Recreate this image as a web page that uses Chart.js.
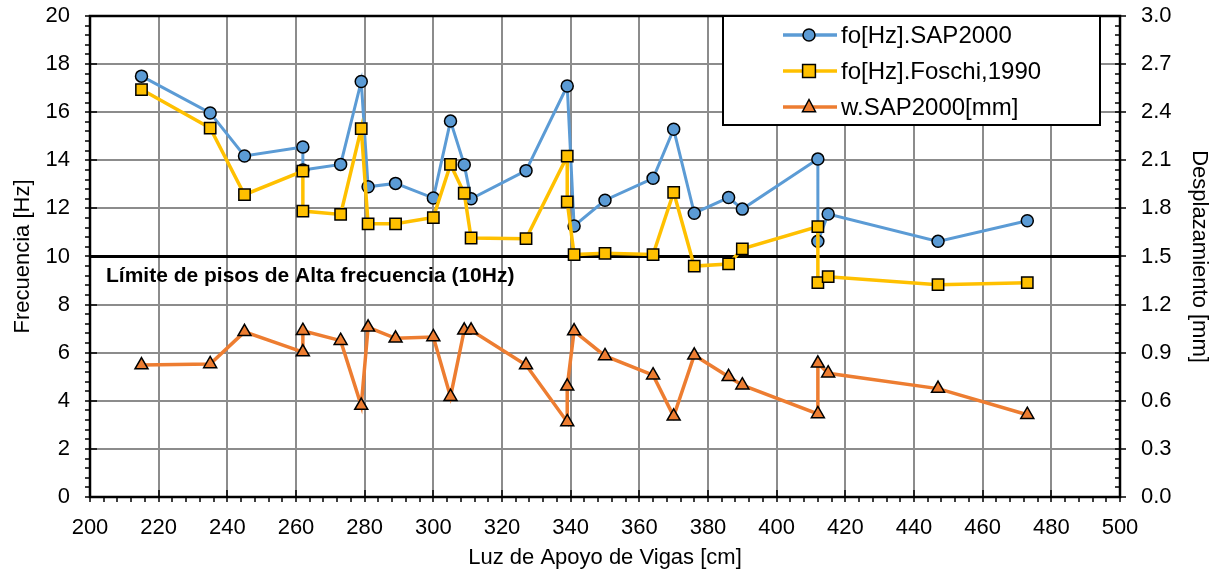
<!DOCTYPE html>
<html>
<head>
<meta charset="utf-8">
<script src="https://cdn.jsdelivr.net/npm/chart.js@4"></script>
<style>
  html, body { margin: 0; padding: 0; background: #fff; }
  #wrap { width: 1219px; height: 577px; }
</style>
</head>
<body>
<div id="wrap"><canvas id="chart" width="1219" height="577"></canvas></div>
<script>
// luz de apoyo [cm]
var xSap = [215,235,245,262,262,273,279,281,289,300,305,309,311,327,339,341,350,364,370,376,386,390,412,412,415,447,473];
var foSap = [17.5,15.97,14.18,14.55,13.6,13.83,17.28,12.9,13.04,12.43,15.63,13.82,12.4,13.57,17.09,11.27,12.34,13.25,15.29,11.8,12.45,11.97,14.05,10.63,11.77,10.63,11.49];
var xFoschi = [215,235,245,262,262,273,279,281,289,300,305,309,311,327,339,339,341,350,364,370,376,386,390,412,412,415,447,473];
var foFoschi = [16.94,15.34,12.57,13.55,11.89,11.75,15.32,11.36,11.36,11.62,13.83,12.63,10.77,10.74,14.17,12.27,10.08,10.13,10.08,12.67,9.6,9.69,10.32,11.24,8.91,9.16,8.83,8.91];
var xW = [215,235,245,262,262,273,279,281,289,300,305,309,311,327,339,339,341,350,364,370,376,386,390,412,412,415,447,473];
var wSap = [0.823,0.83,1.03,0.904,1.037,0.975,0.57,1.058,0.99,0.998,0.626,1.04,1.04,0.823,0.468,0.69,1.035,0.88,0.76,0.503,0.884,0.75,0.697,0.518,0.834,0.772,0.676,0.513];
var limiteX = [200, 500];
var limiteY = [10, 10];
var limiteLabel = 'Límite de pisos de Alta frecuencia (10Hz)';

function pts(xs, ys) { return xs.map(function (x, i) { return {x: x, y: ys[i]}; }); }

var FONT = "'Liberation Sans', Arial, sans-serif";
Chart.defaults.font.family = FONT;
Chart.defaults.color = '#000';

// sin relleno extra por las etiquetas de los extremos
function noEdgePad(s) { s.paddingTop = 0; s.paddingBottom = 0; s.paddingLeft = 0; s.paddingRight = 0; }

// ticks menores y marcas principales dibujados a mano
var minorTicks = {
  id: 'minorTicks',
  afterDraw: function (chart) {
    var ctx = chart.ctx, a = chart.chartArea;
    var sx = chart.scales.x, sy = chart.scales.y, sy1 = chart.scales.y1;
    ctx.save();
    ctx.strokeStyle = '#000';
    ctx.lineWidth = 1.5;
    ctx.beginPath();
    for (var v = 200; v <= 500.001; v += 4) {
      var px = Math.round(sx.getPixelForValue(v));
      var major = Math.abs(v / 20 - Math.round(v / 20)) < 1e-6;
      ctx.moveTo(px, major ? a.bottom - 7 : a.bottom);
      ctx.lineTo(px, a.bottom + 5);
    }
    for (var u = 0; u <= 20.001; u += 0.4) {
      var py = Math.round(sy.getPixelForValue(u));
      var maj = Math.abs(u / 2 - Math.round(u / 2)) < 1e-6;
      ctx.moveTo(a.left - 5, py);
      ctx.lineTo(maj ? a.left + 7 : a.left, py);
    }
    for (var w = 0; w <= 3.0001; w += 0.06) {
      var py1 = Math.round(sy1.getPixelForValue(w));
      var maj1 = Math.abs(w / 0.3 - Math.round(w / 0.3)) < 1e-6;
      ctx.moveTo(a.right - 5, py1);
      ctx.lineTo(maj1 ? a.right + 6 : a.right, py1);
    }
    ctx.stroke();
    // marco del área
    ctx.lineWidth = 2.5;
    ctx.strokeRect(a.left, a.top, a.right - a.left, a.bottom - a.top);
    // texto del límite
    ctx.font = 'bold 21px ' + FONT;
    ctx.fillStyle = '#000';
    ctx.textAlign = 'left';
    ctx.textBaseline = 'middle';
    ctx.fillText(limiteLabel, a.left + 16, sy.getPixelForValue(9.19));
    ctx.restore();
  }
};

// leyenda con marco dentro del área
var boxLegend = {
  id: 'boxLegend',
  afterDraw: function (chart) {
    var ctx = chart.ctx;
    var x0 = 723, y0 = 16, x1 = 1100, y1 = 125;
    ctx.save();
    ctx.fillStyle = '#fff';
    ctx.fillRect(x0, y0, x1 - x0, y1 - y0);
    ctx.strokeStyle = '#000';
    ctx.lineWidth = 2;
    ctx.strokeRect(x0, y0, x1 - x0, y1 - y0);
    var rows = [35, 71, 107];
    chart.data.datasets.slice(0, 3).forEach(function (ds, i) {
      var y = rows[i];
      ctx.strokeStyle = ds.borderColor;
      ctx.lineWidth = 3.5;
      ctx.beginPath();
      ctx.moveTo(783, y); ctx.lineTo(837, y);
      ctx.stroke();
      ctx.fillStyle = ds.pointBackgroundColor;
      ctx.strokeStyle = '#000';
      ctx.lineWidth = 1.5;
      ctx.beginPath();
      if (ds.pointStyle === 'circle') ctx.arc(809, y, ds.pointRadius, 0, Math.PI * 2);
      else if (ds.pointStyle === 'rect') { var r = ds.pointRadius * 0.8; ctx.rect(809 - r, y - r, 2 * r, 2 * r); }
      else { var t = ds.pointRadius; ctx.moveTo(809, y - t); ctx.lineTo(809 + t * 0.87, y + t * 0.5 + 1); ctx.lineTo(809 - t * 0.87, y + t * 0.5 + 1); ctx.closePath(); }
      ctx.fill(); ctx.stroke();
      ctx.fillStyle = '#000';
      ctx.font = '24px ' + FONT;
      ctx.textAlign = 'left';
      ctx.textBaseline = 'middle';
      ctx.fillText(ds.label, 841, y + 1);
    });
    ctx.restore();
  }
};

new Chart(document.getElementById('chart'), {
  type: 'line',
  data: {
    datasets: [{
      label: 'fo[Hz].SAP2000',
      data: pts(xSap, foSap),
      borderColor: '#5B9BD5',
      borderWidth: 3,
      pointStyle: 'circle',
      pointRadius: 6,
      pointBackgroundColor: '#5B9BD5',
      pointBorderColor: '#000',
      pointBorderWidth: 1.5,
      yAxisID: 'y',
      order: 2
    }, {
      label: 'fo[Hz].Foschi,1990',
      data: pts(xFoschi, foFoschi),
      borderColor: '#FFC000',
      borderWidth: 3.5,
      pointStyle: 'rect',
      pointRadius: 8,
      pointBackgroundColor: '#FFC000',
      pointBorderColor: '#000',
      pointBorderWidth: 1.5,
      yAxisID: 'y',
      order: 1
    }, {
      label: 'w.SAP2000[mm]',
      data: pts(xW, wSap),
      borderColor: '#ED7D31',
      borderWidth: 3.5,
      pointStyle: 'triangle',
      pointRadius: 7.5,
      pointBackgroundColor: '#ED7D31',
      pointBorderColor: '#000',
      pointBorderWidth: 1.5,
      yAxisID: 'y1',
      order: 3
    }, {
      label: 'limite',
      data: pts(limiteX, limiteY),
      borderColor: '#000',
      borderWidth: 3,
      pointRadius: 0,
      yAxisID: 'y',
      order: 4
    }]
  },
  options: {
    responsive: false,
    animation: false,
    layout: { padding: { left: 6, right: 3, top: 16, bottom: 2 } },
    plugins: { legend: { display: false }, tooltip: { enabled: false } },
    scales: {
      x: {
        type: 'linear', min: 200, max: 500,
        ticks: { stepSize: 20, padding: 18, font: { size: 22 } },
        grid: { color: '#8c8c8c', lineWidth: 2, drawTicks: false },
        border: { display: false },
        title: { display: true, text: 'Luz de Apoyo de Vigas [cm]', font: { size: 22 }, padding: { top: 0, bottom: 4 } },
        afterFit: function (s) { s.height = 78; noEdgePad(s); }
      },
      y: {
        position: 'left', min: 0, max: 20,
        ticks: { stepSize: 2, padding: 20, font: { size: 22 } },
        grid: { color: '#8c8c8c', lineWidth: 2, drawTicks: false },
        border: { display: false },
        title: { display: true, text: 'Frecuencia [Hz]', font: { size: 22 }, padding: { top: 4, bottom: 0 } },
        afterFit: function (s) { s.width = 84; noEdgePad(s); }
      },
      y1: {
        position: 'right', min: 0, max: 3.0,
        ticks: { stepSize: 0.3, padding: 21, font: { size: 22 },
          callback: function (v) { return v.toFixed(1); } },
        grid: { drawOnChartArea: false, drawTicks: false },
        border: { display: false },
        title: { display: true, text: 'Desplazamiento [mm]', font: { size: 22 }, padding: { top: 4, bottom: 0 } },
        afterFit: function (s) { s.width = 96; noEdgePad(s); }
      }
    }
  },
  plugins: [minorTicks, boxLegend]
});
</script>
</body>
</html>
